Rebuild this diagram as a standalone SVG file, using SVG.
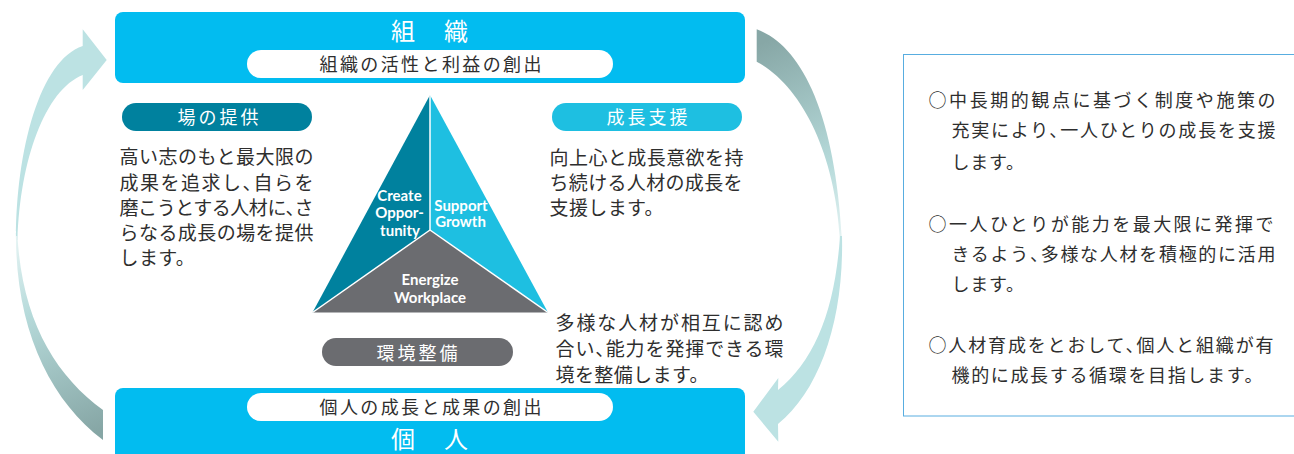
<svg xmlns="http://www.w3.org/2000/svg" width="1294" height="454" viewBox="0 0 1294 454">
  <defs>
    <linearGradient id="gLeftLow" gradientUnits="userSpaceOnUse" x1="16" y1="240" x2="103" y2="430">
      <stop offset="0" stop-color="#e4f3f3"/>
      <stop offset="0.35" stop-color="#b6dada"/>
      <stop offset="1" stop-color="#86a6a5"/>
    </linearGradient>
    <linearGradient id="gRightUp" gradientUnits="userSpaceOnUse" x1="757" y1="45" x2="842" y2="240">
      <stop offset="0" stop-color="#87a7a6"/>
      <stop offset="0.65" stop-color="#b6dada"/>
      <stop offset="1" stop-color="#e6f4f4"/>
    </linearGradient>
    <style>
      .jp { font-family: "Noto Sans CJK JP", "Noto Sans CJK SC", sans-serif; }
      .body { font-size: 19px; fill: #2e2e2e; }
      .note { font-size: 18px; fill: #2e2e2e; }
      .pilltxt { font-size: 18px; fill: #ffffff; letter-spacing: 3px; }
      .subtxt { font-size: 18px; fill: #2e2e2e; letter-spacing: 2.4px; }
      .title { font-size: 24px; fill: #ffffff; letter-spacing: 2.5px; }
      .h { font-feature-settings: "halt"; }
      .en { font-family: Lato, "Open Sans", sans-serif; font-weight: bold; font-size: 15px; fill: #ffffff; text-anchor: middle; }
      .bigbox { fill: #02bcf0; }
      .subpill { fill: #ffffff; }
      .arrowLight { fill: #bce2e3; }
    </style>
  </defs>

  <!-- connectors: cycle arrows -->
  <g id="connectors">
    <g id="arrow-left-up">
      <path d="M 16 240 C 16 150, 40 60, 82.7 46 L 82.7 29.3 L 106.7 60 L 82.7 90 L 82.7 75 C 45 90, 20 160, 17.5 240 Z" class="arrowLight"/>
      <path d="M 16 236 C 16 330, 50 400, 103 440 L 103 410 C 55 375, 22 320, 17.5 236 Z" fill="url(#gLeftLow)"/>
    </g>
    <g id="arrow-right-down">
      <path d="M 756.7 29.3 C 800 45, 835 110, 842 240 L 840 240 C 835 150, 800 85, 756.7 61.7 Z" fill="url(#gRightUp)"/>
      <path d="M 842 236 C 844 320, 820 390, 778 424 L 778.3 441.7 L 753.3 411.7 L 778.3 378 L 778 390 C 815 360, 835 310, 840 236 Z" class="arrowLight"/>
    </g>
  </g>

  <!-- top node: 組織 -->
  <g id="node-organization">
    <rect x="115" y="12" width="630" height="71" rx="8" class="bigbox"/>
    <text x="391" y="40" class="jp title">組　織</text>
    <rect x="247" y="50" width="366" height="28" rx="14" class="subpill"/>
    <text x="319.5" y="70.6" class="jp subtxt">組織の活性と利益の創出</text>
  </g>

  <!-- bottom node: 個人 -->
  <g id="node-individual">
    <rect x="115" y="388" width="630" height="80" rx="8" class="bigbox"/>
    <rect x="247" y="393" width="366" height="28" rx="14" class="subpill"/>
    <text x="319.5" y="413.8" class="jp subtxt">個人の成長と成果の創出</text>
    <text x="391" y="448" class="jp title">個　人</text>
  </g>

  <!-- triangle -->
  <g id="node-triangle">
    <polygon points="430,95 430,230 312.5,312.5" fill="#00819e"/>
    <polygon points="430,95 548,312.5 430,230" fill="#1ebfe1"/>
    <polygon points="312.5,312.5 430,230 548,312.5" fill="#6b6c70"/>
    <g stroke="#ffffff" stroke-width="1.5" fill="none">
      <line x1="430" y1="95" x2="430" y2="230"/>
      <line x1="430" y1="230" x2="312.5" y2="312.5"/>
      <line x1="430" y1="230" x2="548" y2="312.5"/>
    </g>
    <text class="en" x="399.5" y="200.5">Create</text>
    <text class="en" x="399.5" y="218">Oppor-</text>
    <text class="en" x="400" y="235.5">tunity</text>
    <text class="en" x="461" y="210.5">Support</text>
    <text class="en" x="460.5" y="227">Growth</text>
    <text class="en" x="430" y="285">Energize</text>
    <text class="en" x="430" y="302.5">Workplace</text>
  </g>

  <!-- 場の提供 -->
  <g id="node-create-opportunity">
    <rect x="122" y="103" width="190" height="28" rx="14" fill="#00819e"/>
    <text x="177.5" y="123.6" class="jp pilltxt">場の提供</text>
    <text class="jp body" x="119.5" y="164" textLength="194" lengthAdjust="spacing">高い志のもと最大限の</text>
    <text class="jp body h" x="119.5" y="189.5" textLength="194" lengthAdjust="spacing">成果を追求し、自らを</text>
    <text class="jp body h" x="119.5" y="214.7" textLength="194" lengthAdjust="spacing">磨こうとする人材に、さ</text>
    <text class="jp body" x="119.5" y="239.9" textLength="194" lengthAdjust="spacing">らなる成長の場を提供</text>
    <text class="jp body" x="119.5" y="265" letter-spacing="0.4">します。</text>
  </g>

  <!-- 成長支援 -->
  <g id="node-support-growth">
    <rect x="552" y="103" width="190" height="28" rx="14" fill="#1ebfe1"/>
    <text x="606.5" y="123.6" class="jp pilltxt">成長支援</text>
    <text class="jp body" x="549.5" y="165" textLength="194" lengthAdjust="spacing">向上心と成長意欲を持</text>
    <text class="jp body" x="549.5" y="190" textLength="193" lengthAdjust="spacing">ち続ける人材の成長を</text>
    <text class="jp body" x="549.5" y="215" letter-spacing="0.4">支援します。</text>
  </g>

  <!-- 環境整備 -->
  <g id="node-energize-workplace">
    <rect x="322" y="338" width="191" height="28" rx="14" fill="#6b6c70"/>
    <text x="376.5" y="359.8" class="jp pilltxt">環境整備</text>
    <text class="jp body" x="555.5" y="330" textLength="228" lengthAdjust="spacing">多様な人材が相互に認め</text>
    <text class="jp body h" x="555.5" y="356" textLength="228" lengthAdjust="spacing">合い、能力を発揮できる環</text>
    <text class="jp body" x="555.5" y="382" letter-spacing="0.4">境を整備します。</text>
  </g>

  <!-- policy box -->
  <g id="node-policy">
    <rect x="903.5" y="54.5" width="420" height="361.5" fill="none" stroke="#58ade0" stroke-width="1"/>
    <text class="jp note" x="928.5" y="107.3" textLength="347" lengthAdjust="spacing">○中長期的観点に基づく制度や施策の</text>
    <text class="jp note h" x="951.5" y="137.3" textLength="324" lengthAdjust="spacing">充実により、一人ひとりの成長を支援</text>
    <text class="jp note" x="951.5" y="168.5" letter-spacing="0.8">します。</text>
    <text class="jp note" x="928.5" y="230.5" textLength="345" lengthAdjust="spacing">○一人ひとりが能力を最大限に発揮で</text>
    <text class="jp note h" x="951.5" y="260.5" textLength="324" lengthAdjust="spacing">きるよう、多様な人材を積極的に活用</text>
    <text class="jp note" x="951.5" y="290.5" letter-spacing="0.8">します。</text>
    <text class="jp note h" x="928.5" y="352.2" textLength="345" lengthAdjust="spacing">○人材育成をとおして、個人と組織が有</text>
    <text class="jp note" x="951.5" y="382.2" textLength="311" lengthAdjust="spacing">機的に成長する循環を目指します。</text>
  </g>
</svg>
